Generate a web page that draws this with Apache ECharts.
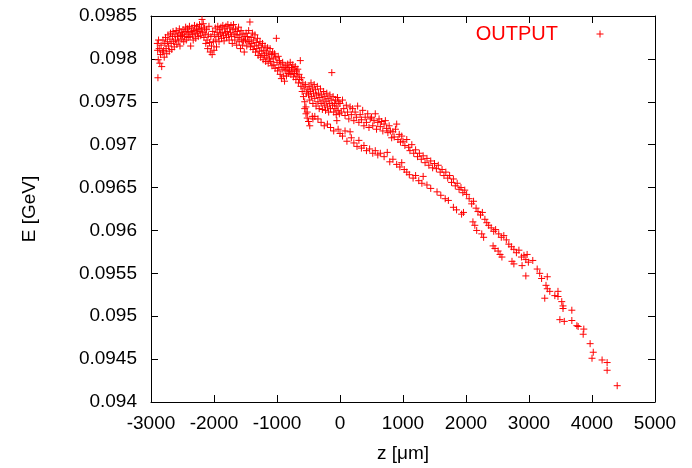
<!DOCTYPE html>
<html>
<head>
<meta charset="utf-8">
<script src="https://cdn.jsdelivr.net/npm/echarts@6/dist/echarts.min.js"></script>
<style>
    html, body { margin: 0; padding: 0; background: #fff; }
    #chart { width: 692px; height: 468px; }
</style>
</head>
<body>
<div id="chart"></div>
<script>
    // axis ranges
    var zRange = [-3000, 5000];
    var zStep = 1000;
    var eRange = [0.094, 0.0985];
    var eStep = 0.0005;
    var seriesName = 'OUTPUT';

    // [z (um), E (GeV)], main band from the left edge to ~z = 0
    var mainBandLeft = [
        [-2900, 0.09818], [-2895, 0.0981], [-2890, 0.09778], [-2885, 0.09799], [-2880, 0.09822], [-2870, 0.09812],
        [-2860, 0.09795], [-2850, 0.09805], [-2840, 0.09816], [-2830, 0.09791], [-2820, 0.09808], [-2810, 0.09822],
        [-2800, 0.0981], [-2790, 0.09802], [-2780, 0.09818], [-2770, 0.09825], [-2760, 0.09812], [-2750, 0.09806],
        [-2740, 0.0982], [-2730, 0.09828], [-2720, 0.09815], [-2710, 0.09809], [-2700, 0.09823], [-2690, 0.0983],
        [-2680, 0.09818], [-2670, 0.09811], [-2660, 0.09826], [-2650, 0.09832], [-2640, 0.0982], [-2630, 0.09814],
        [-2620, 0.09828], [-2610, 0.09822], [-2600, 0.09833], [-2590, 0.09817], [-2580, 0.09826], [-2570, 0.0983],
        [-2560, 0.09821], [-2550, 0.09835], [-2540, 0.09815], [-2530, 0.09827], [-2520, 0.09831], [-2510, 0.09823],
        [-2500, 0.09828], [-2490, 0.09834], [-2480, 0.0982], [-2470, 0.09826], [-2460, 0.09832], [-2450, 0.09837],
        [-2440, 0.09822], [-2430, 0.09829], [-2420, 0.09835], [-2410, 0.09825], [-2400, 0.09831], [-2390, 0.09838],
        [-2380, 0.09826], [-2370, 0.09815], [-2360, 0.09832], [-2350, 0.09836], [-2340, 0.09828], [-2330, 0.09822],
        [-2320, 0.09833], [-2310, 0.09839], [-2300, 0.09829], [-2290, 0.09824], [-2280, 0.09834], [-2270, 0.09838],
        [-2260, 0.0983], [-2250, 0.09826], [-2240, 0.09835], [-2230, 0.0984], [-2220, 0.09832], [-2210, 0.09827],
        [-2200, 0.09836], [-2190, 0.09846], [-2180, 0.09831], [-2170, 0.09841], [-2160, 0.09825], [-2150, 0.09836],
        [-2140, 0.09829], [-2130, 0.09818], [-2120, 0.09834], [-2110, 0.09822], [-2100, 0.09812], [-2090, 0.09828],
        [-2080, 0.09838], [-2070, 0.09819], [-2060, 0.09808], [-2050, 0.09826], [-2040, 0.09815], [-2030, 0.09805],
        [-2020, 0.09832], [-2010, 0.0982], [-2000, 0.0981], [-1990, 0.09828], [-1980, 0.09836], [-1970, 0.09822],
        [-1960, 0.09814], [-1950, 0.09831], [-1940, 0.09838], [-1930, 0.09826], [-1920, 0.0982], [-1910, 0.09834],
        [-1900, 0.09829], [-1890, 0.09837], [-1880, 0.09824], [-1870, 0.09831], [-1860, 0.09839], [-1850, 0.09827],
        [-1840, 0.09821], [-1830, 0.09835], [-1820, 0.0983], [-1810, 0.09838], [-1800, 0.09825], [-1790, 0.09832],
        [-1780, 0.0984], [-1770, 0.09828], [-1760, 0.09822], [-1750, 0.09836], [-1740, 0.09831], [-1730, 0.09839],
        [-1720, 0.09826], [-1710, 0.09818], [-1700, 0.09834], [-1690, 0.0984], [-1680, 0.09829], [-1670, 0.09822],
        [-1660, 0.09835], [-1650, 0.09828], [-1640, 0.09816], [-1630, 0.09832], [-1620, 0.09825], [-1610, 0.09837],
        [-1600, 0.0982], [-1590, 0.09828], [-1580, 0.09812], [-1570, 0.09833], [-1560, 0.09823], [-1550, 0.09816],
        [-1540, 0.09829], [-1530, 0.09821], [-1520, 0.09808], [-1510, 0.09826], [-1500, 0.09822], [-1490, 0.0983],
        [-1480, 0.09815], [-1470, 0.09826], [-1460, 0.0982], [-1450, 0.09833], [-1440, 0.0982], [-1430, 0.09843],
        [-1420, 0.09814], [-1410, 0.09825], [-1400, 0.09818], [-1390, 0.0983], [-1380, 0.09811], [-1370, 0.09822],
        [-1360, 0.09815], [-1350, 0.09828], [-1340, 0.09808], [-1330, 0.09819], [-1320, 0.09812], [-1310, 0.09824],
        [-1300, 0.09804], [-1290, 0.09816], [-1280, 0.09809], [-1270, 0.0982], [-1260, 0.09802], [-1250, 0.09813],
        [-1240, 0.09806], [-1230, 0.09818], [-1220, 0.09799], [-1210, 0.0981], [-1200, 0.09804], [-1190, 0.09815],
        [-1180, 0.09797], [-1170, 0.09808], [-1160, 0.09802], [-1150, 0.09813], [-1140, 0.09795], [-1130, 0.09806],
        [-1120, 0.098], [-1110, 0.09812], [-1100, 0.09797], [-1090, 0.09805], [-1080, 0.09792], [-1070, 0.09808],
        [-1060, 0.098], [-1050, 0.09793], [-1040, 0.09806], [-1030, 0.09789], [-1020, 0.09802], [-1010, 0.09824],
        [-1000, 0.09796], [-990, 0.09786], [-980, 0.09803], [-970, 0.0979], [-960, 0.09798], [-950, 0.09782],
        [-940, 0.09794], [-930, 0.09777], [-920, 0.09788], [-910, 0.09796], [-900, 0.0978], [-890, 0.0979],
        [-880, 0.09774], [-870, 0.09786], [-860, 0.09792], [-850, 0.0978], [-840, 0.09788], [-830, 0.09794],
        [-820, 0.09783], [-810, 0.0979], [-800, 0.09786], [-790, 0.09796], [-780, 0.09782], [-770, 0.0979],
        [-760, 0.09785], [-750, 0.09793], [-740, 0.09779], [-730, 0.09788], [-720, 0.09783], [-710, 0.09791],
        [-700, 0.09776], [-690, 0.09786], [-680, 0.0978], [-670, 0.09788], [-660, 0.09772], [-650, 0.09782],
        [-640, 0.09776], [-630, 0.09798], [-620, 0.09768], [-610, 0.09778], [-600, 0.09762], [-590, 0.09772],
        [-580, 0.09756], [-570, 0.09766], [-560, 0.0975], [-550, 0.0977], [-540, 0.09744], [-530, 0.0976],
        [-520, 0.09738], [-510, 0.09764], [-500, 0.09758], [-490, 0.09768], [-480, 0.09752], [-470, 0.09762],
        [-460, 0.09772], [-450, 0.09756], [-440, 0.09766], [-430, 0.09748], [-420, 0.0976], [-410, 0.0977],
        [-400, 0.09754], [-390, 0.09764], [-380, 0.09745], [-370, 0.09758], [-360, 0.09768], [-350, 0.0975],
        [-340, 0.0976], [-330, 0.09742], [-320, 0.09755], [-310, 0.09765], [-300, 0.09748], [-290, 0.09758],
        [-280, 0.09741], [-270, 0.09752], [-260, 0.09762], [-250, 0.09746], [-240, 0.09756], [-230, 0.0974],
        [-220, 0.0975], [-210, 0.0976], [-200, 0.09744], [-190, 0.09754], [-180, 0.09738], [-170, 0.09748],
        [-160, 0.09758], [-150, 0.09742], [-140, 0.09752], [-130, 0.09784], [-120, 0.09746], [-110, 0.09756],
        [-100, 0.09738], [-90, 0.09748], [-80, 0.09742], [-70, 0.09752], [-60, 0.09735], [-50, 0.09745],
        [-40, 0.09755], [-30, 0.0974], [-20, 0.0975], [-10, 0.09736]
    ];

    // main band from z = 0 to the right end
    var mainBandRight = [
        [0, 0.09748], [20, 0.09738], [40, 0.09752], [60, 0.09742], [80, 0.09734], [100, 0.09746],
        [120, 0.09738], [140, 0.0973], [160, 0.09744], [180, 0.09735], [200, 0.09742], [220, 0.09728],
        [240, 0.09738], [260, 0.09732], [280, 0.09745], [300, 0.09726], [320, 0.09735], [340, 0.09729],
        [360, 0.0974], [380, 0.09722], [400, 0.09732], [420, 0.09726], [440, 0.09736], [460, 0.0972],
        [480, 0.0973], [500, 0.09732], [520, 0.09722], [540, 0.09728], [560, 0.09736], [580, 0.09718],
        [600, 0.09726], [620, 0.0973], [640, 0.09721], [660, 0.09727], [680, 0.09716], [700, 0.09724],
        [720, 0.09728], [740, 0.09719], [760, 0.09714], [780, 0.09722], [800, 0.09716], [820, 0.09708],
        [840, 0.09715], [860, 0.09709], [880, 0.09718], [900, 0.09724], [920, 0.09706], [940, 0.09712],
        [960, 0.09703], [980, 0.0971], [1000, 0.09704], [1030, 0.09699], [1060, 0.09706], [1090, 0.09697],
        [1110, 0.09693], [1140, 0.097], [1170, 0.0969], [1200, 0.09694], [1230, 0.09686], [1260, 0.0969],
        [1290, 0.09683], [1320, 0.09687], [1350, 0.09679], [1380, 0.09684], [1410, 0.09676], [1440, 0.09681],
        [1470, 0.09673], [1500, 0.09678], [1530, 0.09672], [1560, 0.09676], [1590, 0.09668], [1620, 0.09671],
        [1650, 0.09664], [1680, 0.09668], [1710, 0.09661], [1740, 0.09664], [1770, 0.09656], [1800, 0.0966],
        [1830, 0.09652], [1860, 0.09655], [1890, 0.09648], [1920, 0.0965], [1950, 0.09644], [1980, 0.09647],
        [2010, 0.09642], [2050, 0.09637], [2090, 0.09631], [2120, 0.09634], [2160, 0.09626], [2190, 0.09622],
        [2230, 0.09618], [2260, 0.09621], [2300, 0.09613], [2330, 0.09609], [2360, 0.09606], [2400, 0.09603],
        [2440, 0.09599], [2470, 0.09601], [2520, 0.09596], [2560, 0.09592], [2600, 0.09594], [2640, 0.09589],
        [2680, 0.09584], [2720, 0.09581], [2760, 0.09578], [2800, 0.09574], [2840, 0.09577], [2880, 0.09569],
        [2920, 0.09571], [2950, 0.09566], [2970, 0.09572], [2990, 0.09563], [3060, 0.09565], [3130, 0.09555],
        [3170, 0.0955], [3200, 0.09544], [3270, 0.09536], [3290, 0.09546], [3290, 0.09532], [3330, 0.09529],
        [3410, 0.09524], [3460, 0.09529], [3460, 0.09523], [3520, 0.09517], [3540, 0.09512], [3540, 0.09509],
        [3680, 0.09507], [3760, 0.09489], [3780, 0.09488], [3870, 0.09485], [3860, 0.09479], [3970, 0.09468],
        [4020, 0.09458], [4000, 0.09451], [4160, 0.09449], [4240, 0.09446], [4240, 0.09437], [4400, 0.09419]
    ];

    // second, lower branch that splits off near z = -600
    var lowerBranch = [
        [-560, 0.09742], [-540, 0.09736], [-520, 0.09731], [-500, 0.09727], [-480, 0.09722], [-440, 0.09733],
        [-430, 0.0973], [-400, 0.09733], [-350, 0.0973], [-300, 0.09726], [-250, 0.09722], [-200, 0.09724],
        [-150, 0.0972], [-100, 0.09716], [-50, 0.09728], [-30, 0.09718], [0, 0.09713], [40, 0.0971],
        [80, 0.09716], [110, 0.09704], [160, 0.09715], [180, 0.09708], [220, 0.09702], [270, 0.09698],
        [300, 0.09705], [340, 0.09696], [380, 0.09699], [420, 0.09693], [470, 0.09695], [520, 0.0969],
        [560, 0.09693], [600, 0.09688], [640, 0.0969], [700, 0.09686], [750, 0.09691], [790, 0.0968],
        [840, 0.09683], [900, 0.09677], [950, 0.09674], [980, 0.09679], [1020, 0.09671], [1060, 0.09668],
        [1100, 0.09665], [1160, 0.09661], [1200, 0.09664], [1250, 0.09658], [1300, 0.09655], [1320, 0.09663],
        [1380, 0.09653], [1440, 0.09649], [1540, 0.09645], [1600, 0.09641], [1670, 0.09637], [1720, 0.09635],
        [1800, 0.09627], [1850, 0.09624], [1930, 0.09619], [1960, 0.09621], [2110, 0.0961], [2140, 0.09606],
        [2170, 0.096], [2250, 0.09596], [2280, 0.09592], [2430, 0.09582], [2460, 0.09579], [2510, 0.09576],
        [2540, 0.09572], [2570, 0.09569], [2730, 0.09564], [2760, 0.09561], [2890, 0.09559], [2950, 0.09547],
        [3250, 0.09521], [3490, 0.09496], [3560, 0.09494], [3680, 0.09495]
    ];

    var points = mainBandLeft.concat(mainBandRight, lowerBranch);

    // '+' drawn as two strokes
    var plusSymbol = 'path://M0,3.5H7M3.5,0V7';
    var fontName = '"Liberation Sans", Arial, sans-serif';

    function eLabel(v) {
        return String(+v.toFixed(4));
    }

    function zLabel(v) {
        return String(v);
    }

    var chart = echarts.init(document.getElementById('chart'));

    function frameAxis(extra) {
        return Object.assign({
            type: 'value',
            axisLine: { show: true, onZero: false, lineStyle: { color: '#000', width: 1 } },
            axisTick: { show: true, inside: true, length: 7, lineStyle: { color: '#000', width: 1 } },
            splitLine: { show: false }
        }, extra);
    }

    var option = {
        animation: false,
        backgroundColor: '#fff',
        textStyle: { fontFamily: fontName },
        grid: { left: 151, right: 37, top: 16, bottom: 64, containLabel: false },
        legend: {
            right: 83,
            top: 19,
            align: 'right',
            itemWidth: 74,
            itemHeight: 7,
            icon: plusSymbol,
            itemStyle: { color: 'rgba(0,0,0,0)', borderColor: '#ff0000', borderWidth: 1 },
            textStyle: { color: '#ff0000', fontSize: 20, fontFamily: fontName },
            data: [seriesName]
        },
        xAxis: [
            frameAxis({
                min: zRange[0],
                max: zRange[1],
                interval: zStep,
                name: 'z [\u03bcm]',
                nameLocation: 'middle',
                nameGap: 42,
                nameTextStyle: { color: '#000', fontSize: 19, fontFamily: fontName },
                axisLabel: { color: '#000', fontSize: 19, margin: 12, formatter: zLabel, showMinLabel: true, showMaxLabel: true }
            }),
            frameAxis({
                position: 'top',
                min: zRange[0],
                max: zRange[1],
                interval: zStep,
                axisLabel: { show: false }
            })
        ],
        yAxis: [
            frameAxis({
                min: eRange[0],
                max: eRange[1],
                interval: eStep,
                name: 'E [GeV]',
                nameLocation: 'middle',
                nameGap: 112,
                nameRotate: 90,
                nameTextStyle: { color: '#000', fontSize: 19, fontFamily: fontName },
                axisLabel: { color: '#000', fontSize: 19, margin: 14, formatter: eLabel, showMinLabel: true, showMaxLabel: true }
            }),
            frameAxis({
                position: 'right',
                min: eRange[0],
                max: eRange[1],
                interval: eStep,
                axisLabel: { show: false }
            })
        ],
        series: [{
            name: seriesName,
            type: 'scatter',
            xAxisIndex: 0,
            yAxisIndex: 0,
            symbol: plusSymbol,
            symbolSize: 7,
            symbolKeepAspect: true,
            itemStyle: { color: 'rgba(0,0,0,0)', borderColor: '#ff0000', borderWidth: 1, opacity: 1 },
            emphasis: { disabled: true },
            data: points
        }]
    };

    chart.setOption(option);
</script>
</body>
</html>
